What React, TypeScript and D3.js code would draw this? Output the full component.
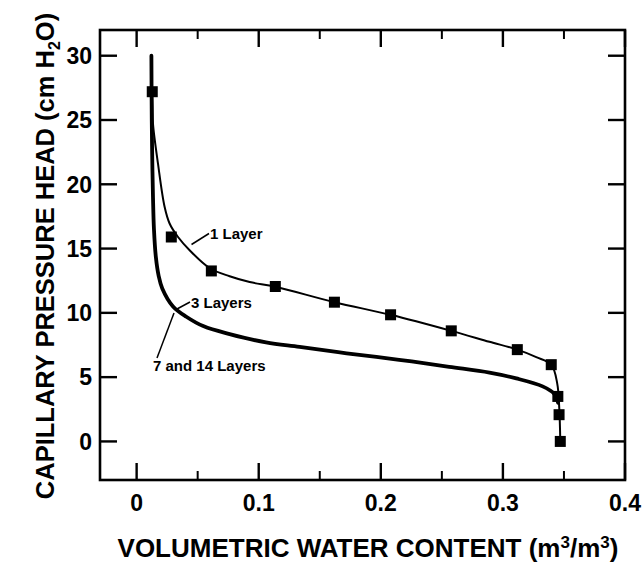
import * as d3 from 'd3';

// measured points (1 layer)
const sampleTheta = [0.0128, 0.0284, 0.0612, 0.1136, 0.162, 0.208, 0.2577, 0.3118, 0.3396, 0.345, 0.346, 0.347];
const sampleHead = [27.2, 15.9, 13.26, 12.05, 10.83, 9.85, 8.6, 7.14, 5.97, 3.5, 2.08, 0];

// 1 layer simulation (thin line)
const oneLayerTheta = [0.0121, 0.0125, 0.013, 0.0134, 0.0175, 0.0229, 0.027, 0.0339, 0.0434, 0.06, 0.0762, 0.0926, 0.1136, 0.162, 0.208, 0.2577, 0.289, 0.3118, 0.3273, 0.3396, 0.3445, 0.3462, 0.347];
const oneLayerHead = [30, 28, 26, 24.7, 21.6, 18.25, 16.95, 15.9, 14.87, 13.47, 12.85, 12.4, 12.03, 10.83, 9.85, 8.6, 7.75, 7.14, 6.56, 5.97, 4.5, 2.5, 0];

// 3, 7 and 14 layers (overlapping, drawn as the heavy line)
const multiLayerTheta = [0.0121, 0.0124, 0.0128, 0.0134, 0.0142, 0.0158, 0.018, 0.021, 0.0298, 0.0407, 0.055, 0.0762, 0.106, 0.1335, 0.172, 0.215, 0.256, 0.289, 0.311, 0.3325, 0.342, 0.3452];
const multiLayerHead = [30, 25, 22, 19, 16.5, 14.3, 12.9, 11.9, 10.5, 9.7, 8.95, 8.35, 7.7, 7.35, 6.85, 6.35, 5.8, 5.35, 4.9, 4.28, 3.7, 3.0];

const xMajor = [0, 0.1, 0.2, 0.3, 0.4];
const xMinor = [0.05, 0.15, 0.25, 0.35];
const yMajor = [0, 5, 10, 15, 20, 25, 30];

const FONT = "'Liberation Sans', Arial, Helvetica, sans-serif";

export default function App() {
  const x = d3.scaleLinear().domain([-0.03, 0.4]).range([100, 625]);
  const y = d3.scaleLinear().domain([-3, 32]).range([480, 30]);
  const [x0, x1] = x.range();
  const [y0, y1] = y.range();

  const line = d3
    .line<[number, number]>()
    .x((d) => x(d[0]))
    .y((d) => y(d[1]))
    .curve(d3.curveCatmullRom.alpha(0.5));

  const thin = line(oneLayerTheta.map((t, i) => [t, oneLayerHead[i]]));
  const thick = line(multiLayerTheta.map((t, i) => [t, multiLayerHead[i]]));

  const fmtX = (v: number) => (v === 0 ? '0' : d3.format('.1f')(v));

  return (
    <svg
      width={644}
      height={564}
      style={{ position: 'absolute', left: 0, top: 0, background: '#fff' }}
      fontFamily={FONT}
      fontWeight="bold"
    >
      {/* ticks */}
      {xMajor.map((v) => (
        <g key={'xM' + v} stroke="#000" strokeWidth={2.4}>
          <line x1={x(v)} x2={x(v)} y1={y0} y2={y0 - 17} />
          <line x1={x(v)} x2={x(v)} y1={y1} y2={y1 + 17} />
        </g>
      ))}
      {xMinor.map((v) => (
        <g key={'xm' + v} stroke="#000" strokeWidth={2}>
          <line x1={x(v)} x2={x(v)} y1={y0} y2={y0 - 9} />
          <line x1={x(v)} x2={x(v)} y1={y1} y2={y1 + 9} />
        </g>
      ))}
      {yMajor.map((v) => (
        <g key={'yM' + v} stroke="#000" strokeWidth={2.4}>
          <line x1={x0} x2={x0 + 17} y1={y(v)} y2={y(v)} />
          <line x1={x1} x2={x1 - 17} y1={y(v)} y2={y(v)} />
        </g>
      ))}
      <rect x={x0} y={y1} width={x1 - x0} height={y0 - y1} fill="none" stroke="#000" strokeWidth={2.6} />

      {/* tick labels */}
      {xMajor.map((v) => (
        <text key={'xl' + v} x={x(v)} y={511} textAnchor="middle" fontSize={23}>
          {fmtX(v)}
        </text>
      ))}
      {yMajor.map((v) => (
        <text key={'yl' + v} x={92} y={y(v) + 8.3} textAnchor="end" fontSize={23}>
          {v}
        </text>
      ))}

      {/* curves */}
      <path d={thick ?? ''} fill="none" stroke="#000" strokeWidth={3.8} strokeLinecap="round" />
      <path d={thin ?? ''} fill="none" stroke="#000" strokeWidth={2} />

      {sampleTheta.map((t, i) => (
        <rect key={'s' + i} x={x(t) - 5.5} y={y(sampleHead[i]) - 5.5} width={11} height={11} fill="#000" />
      ))}

      {/* annotations */}
      <g stroke="#000" strokeWidth={1.5}>
        <line x1={191.5} y1={244.5} x2={209} y2={233.5} />
        <line x1={177} y1={309} x2={190} y2={302} />
        <line x1={157} y1={358} x2={174} y2={313} />
      </g>
      <text x={210} y={239} fontSize={15}>1 Layer</text>
      <text x={191} y={308} fontSize={15}>3 Layers</text>
      <text x={153} y={371} fontSize={15}>7 and 14 Layers</text>

      {/* axis titles */}
      <text x={368} y={557} textAnchor="middle" fontSize={26}>
        VOLUMETRIC WATER CONTENT (m<tspan dy={-9} fontSize={17}>3</tspan>
        <tspan dy={9}>/m</tspan>
        <tspan dy={-9} fontSize={17}>3</tspan>
        <tspan dy={9}>)</tspan>
      </text>
      <text transform="translate(54,256) rotate(-90)" textAnchor="middle" fontSize={25.5}>
        CAPILLARY PRESSURE HEAD (cm H<tspan dy={6} fontSize={16}>2</tspan>
        <tspan dy={-6}>O)</tspan>
      </text>
    </svg>
  );
}
